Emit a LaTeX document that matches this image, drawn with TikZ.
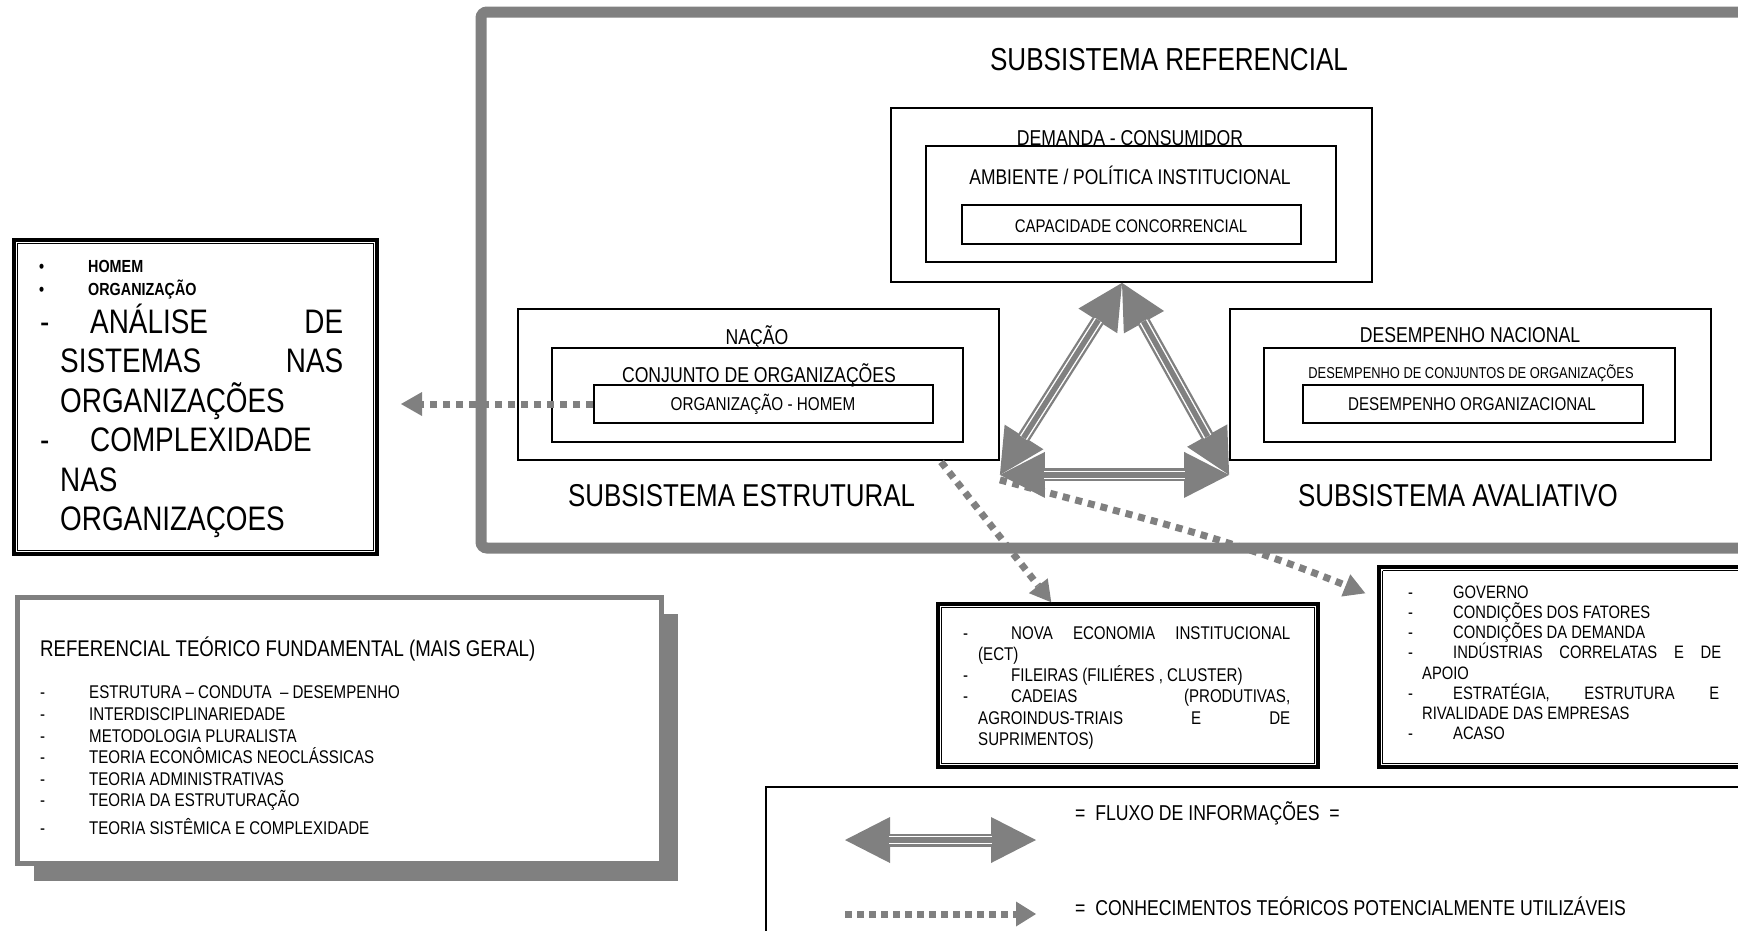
\documentclass[tikz,border=0pt]{standalone}
\usepackage{fontspec}
\setmainfont{Liberation Sans}[FakeStretch=0.82]
\usetikzlibrary{arrows.meta,calc,fit}

\newcommand\fs[1]{\fontsize{#1}{#1}\selectfont}
% thin inner line of a thick-thin framed box
\newcommand\thinframe[1]{\draw[line width=1.4pt] ($(#1.north west)+(5.5,5.5)$) rectangle ($(#1.south east)+(-5.5,-5.5)$);}

\begin{document}
\begin{tikzpicture}[x=1pt,y=-1pt,
  sysframe/.style={draw=gray, line width=11pt, rounded corners=6pt, inner sep=0pt},
  sysbox/.style={draw, line width=1.8pt, inner sep=0pt},
  dblbox/.style={draw, line width=3.5pt, inner sep=0pt},
  legbox/.style={draw, line width=1.4pt, inner sep=0pt},
  lbl/.style={inner sep=0pt, anchor=base},
  lt/.style={inner sep=0pt, anchor=base west},
  flow/.style={draw=gray, line width=13pt,
    {Triangle[length=45pt,width=46pt,line width=0pt]}-{Triangle[length=45pt,width=46pt,line width=0pt]}},
  stripe/.style={draw=white, line width=1.4pt, double=gray, double distance=5.5pt,
    shorten <=44pt, shorten >=44pt},
  dotarrow/.style={draw=gray, line width=7pt, dash pattern=on 7pt off 6pt,
    -{Triangle[length=21pt,width=24pt,line width=0pt]}},
  legdots/.style={draw=gray, line width=7pt, dash pattern=on 7pt off 5pt,
    -{Triangle[length=20pt,width=25pt,line width=0pt]}},
  biglist/.style={font=\fs{34}},
  smalllist/.style={font=\fs{18.4}},
  govlist/.style={font=\fs{18}}
]
\useasboundingbox (0,0) rectangle (1738,930);
\clip (0,0) rectangle (1738,930);

% ---------- outer frame of the three subsystems ----------
\node[sysframe, fit={(481,12)(1765,548)}] (refsys) {};
\node[lbl, font=\fs{31.8}] (refT) at (1169,70) {SUBSISTEMA REFERENCIAL};

% referential subsystem
\node[sysbox, fit={(891,108)(1372,282)}] (dem) {};
\node[sysbox, fit={(926,146)(1336,262)}] (amb) {};
\node[sysbox, fit={(962,205)(1301,244)}] (cap) {};
\node[lbl, font=\fs{21.5}] (demT) at (1130,145) {DEMANDA - CONSUMIDOR};
\node[lbl, font=\fs{21.3}] (ambT) at (1130,184) {AMBIENTE / POLÍTICA INSTITUCIONAL};
\node[lbl, font=\fs{18.3}] (capT) at (1131,232) {CAPACIDADE CONCORRENCIAL};

% structural subsystem
\node[sysbox, fit={(518,309)(999,460)}] (nac) {};
\node[sysbox, fit={(552,348)(963,442)}] (conj) {};
\node[sysbox, fit={(594,385)(933,423)}] (orgh) {};
\node[lbl, font=\fs{21.5}] (nacT) at (757,344) {NAÇÃO};
\node[lbl, font=\fs{21.5}] (conjT) at (759,382) {CONJUNTO DE ORGANIZAÇÕES};
\node[lbl, font=\fs{18.6}] (orghT) at (763,410) {ORGANIZAÇÃO - HOMEM};
\node[lbl, font=\fs{31.6}] (estT) at (741.5,506) {SUBSISTEMA ESTRUTURAL};

% evaluative subsystem
\node[sysbox, fit={(1230,309)(1711,460)}] (desN) {};
\node[sysbox, fit={(1264,348)(1675,442)}] (desC) {};
\node[sysbox, fit={(1303,385)(1643,423)}] (desO) {};
\node[lbl, font=\fs{21.5}] (desNT) at (1470,342) {DESEMPENHO NACIONAL};
\node[lbl, font=\fs{15.7}] (desCT) at (1471,378) {DESEMPENHO DE CONJUNTOS DE ORGANIZAÇÕES};
\node[lbl, font=\fs{18.5}] (desOT) at (1472,410) {DESEMPENHO ORGANIZACIONAL};
\node[lbl, font=\fs{31.6}] (avaT) at (1458,506) {SUBSISTEMA AVALIATIVO};

% ---------- information flow triangle ----------
\coordinate (T) at ($(dem.south)+(-9.5,0)$);
\coordinate (L) at ($(nac.south east)+(0,14)$);
\coordinate (R) at ($(desN.south west)+(0,14)$);
\draw[flow] (L) -- (T);  \draw[stripe] (L) -- (T);
\draw[flow] (T) -- (R);  \draw[stripe] (T) -- (R);
\draw[flow] (L) -- (R);  \draw[stripe] (L) -- (R);

% ---------- side box: man / organization ----------
\node[dblbox, fit={(14,240)(377,554)}] (homem) {};
\thinframe{homem}
\node[lt, font=\bfseries\fs{17.5}] (b1) at (39,272) {•};
\node[lt, font=\bfseries\fs{17.5}] (h1) at (88,272) {HOMEM};
\node[lt, font=\bfseries\fs{17.5}] (b2) at (39,295) {•};
\node[lt, font=\bfseries\fs{17.5}] (h2) at (88,295) {ORGANIZAÇÃO};
\node[lt, biglist] (h3d) at (40,333) {-};
\node[lt, biglist] (h3) at (90,333) {\hbox to 253pt{ANÁLISE\hfill DE}};
\node[lt, biglist] (h4) at (60,372.5) {\hbox to 283pt{SISTEMAS\hfill NAS}};
\node[lt, biglist] (h5) at (60,412) {ORGANIZAÇÕES};
\node[lt, biglist] (h6d) at (40,451.5) {-};
\node[lt, biglist] (h6) at (90,451.5) {COMPLEXIDADE};
\node[lt, biglist] (h7) at (60,491) {NAS};
\node[lt, biglist] (h8) at (60,530.5) {ORGANIZAÇOES};

% ---------- general theoretical reference ----------
\node[fill=gray, inner sep=0pt, fit={(34,614)(678,881)}] (refshadow) {};
\node[draw=gray, fill=white, line width=5pt, inner sep=0pt, fit={(17,597)(661,863)}] (refbox) {};
\node[lt, font=\fs{22.7}] (rT) at (40,656) {REFERENCIAL TEÓRICO FUNDAMENTAL (MAIS GERAL)};
\foreach \y/\t [count=\i] in {698/{ESTRUTURA – CONDUTA \ – DESEMPENHO},
                              720/{INTERDISCIPLINARIEDADE},
                              742/{METODOLOGIA PLURALISTA},
                              763.5/{TEORIA ECONÔMICAS NEOCLÁSSICAS},
                              785/{TEORIA ADMINISTRATIVAS},
                              806.5/{TEORIA DA ESTRUTURAÇÃO},
                              834.5/{TEORIA SISTÊMICA E COMPLEXIDADE}}{
  \node[lt, smalllist] (rd\i) at (40,\y) {-};
  \node[lt, smalllist] (r\i) at (89,\y) {\t};
}

% ---------- institutional economics box ----------
\node[dblbox, fit={(938,604)(1318,767)}] (nova) {};
\thinframe{nova}
\node[lt, smalllist] (n1d) at (963,639) {-};
\node[lt, smalllist] (n1) at (1011,639) {\hbox to 279pt{NOVA\hfill ECONOMIA\hfill INSTITUCIONAL}};
\node[lt, smalllist] (n2) at (978,660) {(ECT)};
\node[lt, smalllist] (n3d) at (963,681.5) {-};
\node[lt, smalllist] (n3) at (1011,681.5) {FILEIRAS (FILIÉRES , CLUSTER)};
\node[lt, smalllist] (n4d) at (963,702.5) {-};
\node[lt, smalllist] (n4) at (1011,702.5) {\hbox to 279pt{CADEIAS\hfill (PRODUTIVAS,}};
\node[lt, smalllist] (n5) at (978,724) {\hbox to 312pt{AGROINDUS-TRIAIS\hfill E\hfill DE}};
\node[lt, smalllist] (n6) at (978,745) {SUPRIMENTOS)};

% ---------- national competitiveness determinants ----------
\node[dblbox, fit={(1379,567)(1760,767)}] (gov) {};
\draw[line width=1.4pt] ($(gov.north west)+(5.5,5.5)$) -- ($(gov.north east)+(0,5.5)$)
  ($(gov.north west)+(5.5,5.5)$) -- ($(gov.south west)+(5.5,-5.5)$) -- ($(gov.south east)+(0,-5.5)$);
\node[lt, govlist] (g1d) at (1408,598) {-};
\node[lt, govlist] (g1) at (1453,598) {GOVERNO};
\node[lt, govlist] (g2d) at (1408,618) {-};
\node[lt, govlist] (g2) at (1453,618) {CONDIÇÕES DOS FATORES};
\node[lt, govlist] (g3d) at (1408,638.5) {-};
\node[lt, govlist] (g3) at (1453,638.5) {CONDIÇÕES DA DEMANDA};
\node[lt, govlist] (g4d) at (1408,658.5) {-};
\node[lt, govlist] (g4) at (1453,658.5) {\hbox to 268pt{INDÚSTRIAS\hfill CORRELATAS\hfill E\hfill DE}};
\node[lt, govlist] (g5) at (1422,679) {APOIO};
\node[lt, govlist] (g6d) at (1408,699) {-};
\node[lt, govlist] (g6) at (1453,699) {\hbox to 266pt{ESTRATÉGIA,\hfill ESTRUTURA\hfill E}};
\node[lt, govlist] (g7) at (1422,719) {RIVALIDADE DAS EMPRESAS};
\node[lt, govlist] (g8d) at (1408,739.5) {-};
\node[lt, govlist] (g8) at (1453,739.5) {ACASO};

% ---------- potentially usable theoretical knowledge ----------
\coordinate (tipL) at (401,404);
\draw[dotarrow] (orgh.west) -- (tipL);
\draw[dotarrow] ($(nac.south west)+(424,1)$) -- ($(nova.north west)+(115,0)$);
\draw[dotarrow] ($(L)+(0,5)$) to[out=-15,in=158] ($(gov.north west)+(-12,28)$);

% ---------- legend ----------
\node[legbox, fit={(766,787)(1765,945)}] (leg) {};
\coordinate (lgA) at (845,840);
\coordinate (lgB) at (1036,840);
\draw[flow] (lgA) -- (lgB);  \draw[stripe] (lgA) -- (lgB);
\node[lt, font=\fs{21.5}] (lgT1) at (1075,820) {=\ \ FLUXO DE INFORMAÇÕES\ \ =};
\coordinate (lgC) at (845,914);
\coordinate (lgD) at (1036,914);
\draw[legdots] (lgC) -- (lgD);
\node[lt, font=\fs{21.5}] (lgT2) at (1075,915.5) {=\ \ CONHECIMENTOS TEÓRICOS POTENCIALMENTE UTILIZÁVEIS};
\end{tikzpicture}
\end{document}
